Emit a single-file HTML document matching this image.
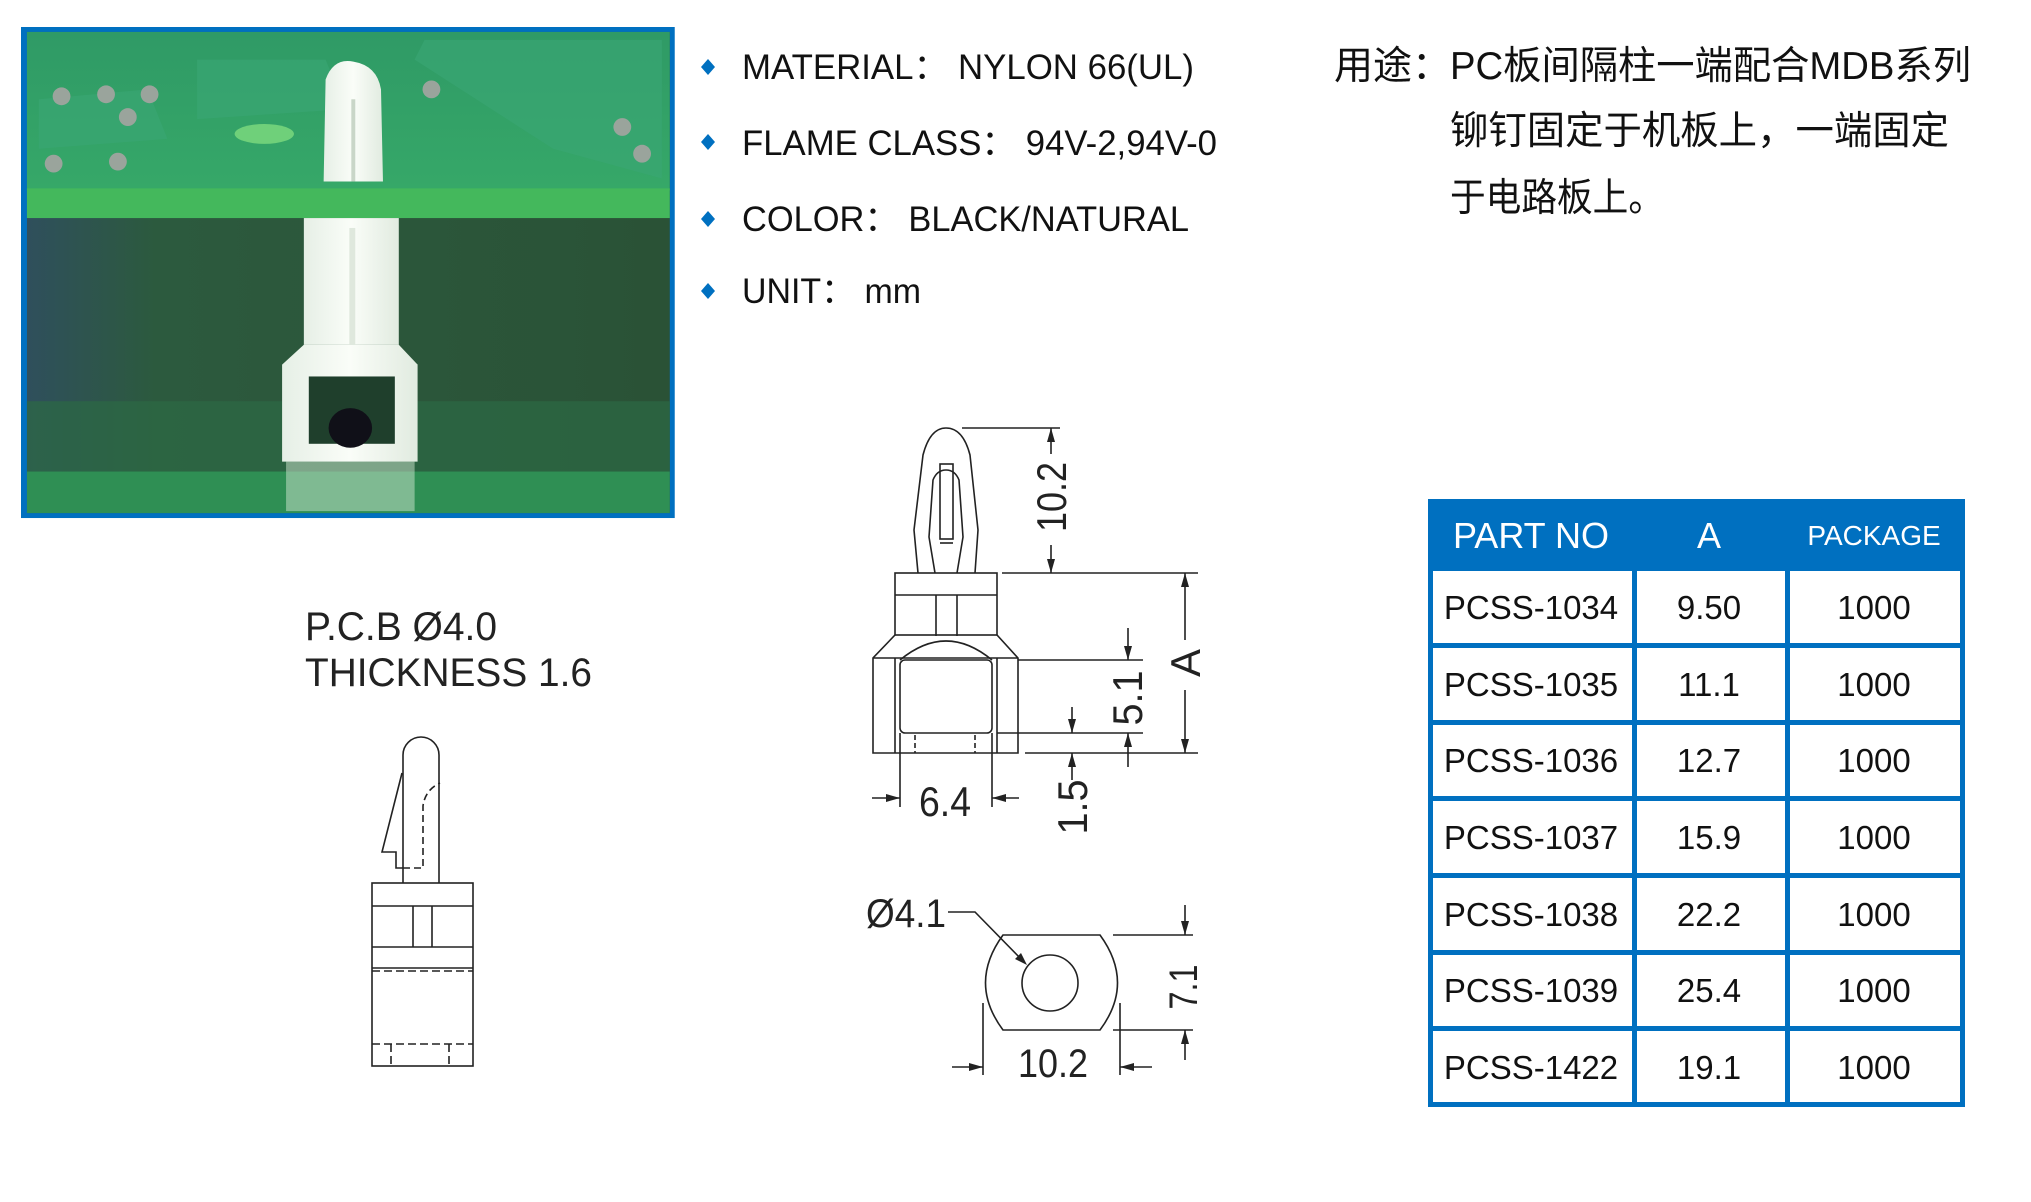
<!DOCTYPE html>
<html><head><meta charset="utf-8"><style>
html,body{margin:0;padding:0;background:#fff;}
svg{display:block;}
.t{font-family:"Liberation Sans","Noto Sans CJK SC",sans-serif;}
</style></head><body>
<svg width="2031" height="1202" viewBox="0 0 2031 1202" xmlns="http://www.w3.org/2000/svg">
<defs>
<linearGradient id="topb" x1="0" y1="0" x2="0" y2="1"><stop offset="0" stop-color="#2f9a66"/><stop offset="1" stop-color="#36a868"/></linearGradient>
<linearGradient id="dark" x1="0" y1="0" x2="1" y2="0"><stop offset="0" stop-color="#2f4f5c"/><stop offset="0.2" stop-color="#2c5a3e"/><stop offset="1" stop-color="#2a5236"/></linearGradient>
<linearGradient id="wh" x1="0" y1="0" x2="1" y2="0"><stop offset="0" stop-color="#e6efe6"/><stop offset="0.5" stop-color="#fafdf8"/><stop offset="1" stop-color="#e1ebe0"/></linearGradient>
</defs>
<!-- photo -->
<g transform="translate(21 27) scale(0.989 0.99) translate(-22 -27)">
<rect x="22" y="27" width="661" height="496" fill="#0070c0"/>
<rect x="28" y="32" width="650" height="486" fill="url(#dark)"/>
<rect x="28" y="32" width="650" height="160" fill="url(#topb)"/>
<path d="M40 100 L150 90 L170 140 L40 150Z M200 60 L330 60 L350 110 L200 120Z M420 60 L560 150 L670 180 L670 40 L430 40Z" fill="#3aa775" opacity="0.6"/>
<ellipse cx="268" cy="135" rx="30" ry="10" fill="#6fd07a"/>
<g fill="#9aa49c"><circle cx="63" cy="97" r="9"/><circle cx="108" cy="95" r="9"/><circle cx="152" cy="95" r="9"/><circle cx="130" cy="118" r="9"/><circle cx="55" cy="165" r="9"/><circle cx="120" cy="163" r="9"/><circle cx="437" cy="90" r="9"/><circle cx="630" cy="128" r="9"/><circle cx="650" cy="155" r="9"/></g>
<rect x="28" y="190" width="650" height="30" fill="#44b85c"/>
<rect x="28" y="476" width="650" height="42" fill="#2f8f54"/>
<rect x="28" y="405" width="650" height="71" fill="#2c6a44" opacity="0.7"/>
<path d="M328 183 L330 80 Q338 58 358 62 Q382 66 386 90 L388 183Z" fill="url(#wh)"/>
<rect x="356" y="100" width="4" height="83" fill="#c9d6c8"/>
<rect x="308" y="220" width="96" height="128" fill="url(#wh)"/>
<rect x="354" y="230" width="6" height="118" fill="#dfe8dd"/>
<path d="M308 348 L404 348 L423 368 L423 466 L286 466 L286 368Z" fill="url(#wh)"/>
<rect x="313" y="380" width="87" height="68" fill="#1f3f2c"/>
<ellipse cx="355" cy="432" rx="22" ry="20" fill="#101018"/>
<rect x="290" y="466" width="130" height="50" fill="#cfe6d0" opacity="0.5"/>
</g>

<!-- bullets -->
<g fill="#0070c0">
<path d="M708 59 l7 8 l-7 8 l-7 -8z"/>
<path d="M708 134 l7 8 l-7 8 l-7 -8z"/>
<path d="M708 211 l7 8 l-7 8 l-7 -8z"/>
<path d="M708 283 l7 8 l-7 8 l-7 -8z"/>
</g>
<g class="t" font-size="35" fill="#111">
<text x="742" y="79" textLength="452" lengthAdjust="spacingAndGlyphs">MATERIAL：  NYLON 66(UL)</text>
<text x="742" y="155" textLength="475" lengthAdjust="spacingAndGlyphs">FLAME CLASS：  94V-2,94V-0</text>
<text x="742" y="231" textLength="447" lengthAdjust="spacingAndGlyphs">COLOR：  BLACK/NATURAL</text>
<text x="742" y="303" textLength="179" lengthAdjust="spacingAndGlyphs">UNIT：  mm</text>
</g>
<g class="t" font-size="39" fill="#111">
<text x="1334" y="79">用途：</text>
<text x="1450" y="79" textLength="521" lengthAdjust="spacingAndGlyphs">PC板间隔柱一端配合MDB系列</text>
<text x="1450" y="144" textLength="499" lengthAdjust="spacingAndGlyphs">铆钉固定于机板上，一端固定</text>
<text x="1450" y="211" textLength="214" lengthAdjust="spacingAndGlyphs">于电路板上。</text>
</g>

<!-- table -->
<rect x="1428" y="499" width="537" height="608" fill="#0070c0"/>
<g fill="#fff">
<rect x="1433" y="571" width="199" height="72"/><rect x="1637" y="571" width="148" height="72"/><rect x="1790" y="571" width="170" height="72"/>
<rect x="1433" y="648" width="199" height="72"/><rect x="1637" y="648" width="148" height="72"/><rect x="1790" y="648" width="170" height="72"/>
<rect x="1433" y="725" width="199" height="71"/><rect x="1637" y="725" width="148" height="71"/><rect x="1790" y="725" width="170" height="71"/>
<rect x="1433" y="801" width="199" height="72"/><rect x="1637" y="801" width="148" height="72"/><rect x="1790" y="801" width="170" height="72"/>
<rect x="1433" y="878" width="199" height="72"/><rect x="1637" y="878" width="148" height="72"/><rect x="1790" y="878" width="170" height="72"/>
<rect x="1433" y="955" width="199" height="71"/><rect x="1637" y="955" width="148" height="71"/><rect x="1790" y="955" width="170" height="71"/>
<rect x="1433" y="1031" width="199" height="71"/><rect x="1637" y="1031" width="148" height="71"/><rect x="1790" y="1031" width="170" height="71"/>
</g>
<g class="t" fill="#fff" text-anchor="middle">
<text x="1531" y="548" font-size="36">PART NO</text>
<text x="1709" y="548" font-size="36">A</text>
<text x="1874" y="545" font-size="28">PACKAGE</text>
</g>
<g class="t" fill="#111" font-size="33" text-anchor="middle">
<text x="1531" y="619">PCSS-1034</text><text x="1709" y="619">9.50</text><text x="1874" y="619">1000</text>
<text x="1531" y="696">PCSS-1035</text><text x="1709" y="696">11.1</text><text x="1874" y="696">1000</text>
<text x="1531" y="772">PCSS-1036</text><text x="1709" y="772">12.7</text><text x="1874" y="772">1000</text>
<text x="1531" y="849">PCSS-1037</text><text x="1709" y="849">15.9</text><text x="1874" y="849">1000</text>
<text x="1531" y="926">PCSS-1038</text><text x="1709" y="926">22.2</text><text x="1874" y="926">1000</text>
<text x="1531" y="1002">PCSS-1039</text><text x="1709" y="1002">25.4</text><text x="1874" y="1002">1000</text>
<text x="1531" y="1079">PCSS-1422</text><text x="1709" y="1079">19.1</text><text x="1874" y="1079">1000</text>
</g>

<!-- left drawing -->
<g class="t" fill="#222" font-size="40">
<text x="305" y="640" textLength="192" lengthAdjust="spacingAndGlyphs">P.C.B  Ø4.0</text>
<text x="305" y="686" textLength="287" lengthAdjust="spacingAndGlyphs">THICKNESS  1.6</text>
</g>
<g fill="none" stroke="#222" stroke-width="1.6">
<path d="M403 883 L403 755 A18 18 0 0 1 439 755 L439 883"/>
<path d="M402 773 L382 852 L396 852 L396 868 L403 868"/>
<path d="M403 868 L423 868 L423 806 Q425 790 440 783" stroke-dasharray="7 4"/>
<rect x="372" y="883" width="101" height="183"/>
<path d="M372 906 H473 M372 947 H473 M372 968 H473 M413 906 V947 M432 906 V947"/>
<path d="M372 971 H473 M372 1044 H473 M391 1044 V1066 M449 1044 V1066" stroke-dasharray="8 4"/>
</g>

<!-- middle drawing -->
<g fill="none" stroke="#222" stroke-width="1.6">
<path d="M918 573 L914 530 L923 455 Q930 428 946 428 Q963 428 970 455 L978 530 L975 573"/>
<path d="M935 573 L929 537 L933 480 Q937 470 946 470 Q955 470 959 480 L963 537 L957 573"/>
<rect x="940" y="464" width="13" height="75"/>
<path d="M940 543 H953"/>
<rect x="895" y="573" width="102" height="62"/>
<path d="M895 595 H997 M936 595 V636 M957 595 V636"/>
<path d="M895 635 L873 658 L873 753 L1018 753 L1018 658 L997 635"/>
<path d="M873 658 H1018 M895 658 V753 M997 658 V753"/>
<path d="M900 660 Q946 622 992 660"/>
<rect x="900" y="660" width="92" height="73" rx="5"/>
<path d="M900 733 V807 M992 733 V807"/>
<path d="M915 735 V753 M975 735 V753" stroke-dasharray="5 3"/>
<path d="M962 428 H1060 M1051 428 V454 M1051 545 V573"/>
<path d="M1002 573 H1198 M1185 573 V640 M1185 690 V753"/>
<path d="M1018 660 H1143 M997 733 H1143 M1025 753 H1198"/>
<path d="M1128 628 V660 M1128 733 V767"/>
<path d="M1072 707 V733 M1072 753 V780"/>
<path d="M872 798 H900 M992 798 H1019"/>
</g>
<g fill="#222">
<path d="M1051 428 l-4 14 h8z M1051 573 l-4 -14 h8z"/>
<path d="M1185 573 l-4 14 h8z M1185 753 l-4 -14 h8z"/>
<path d="M1128 660 l-4 -14 h8z M1128 733 l-4 14 h8z"/>
<path d="M1072 733 l-4 -14 h8z M1072 753 l-4 14 h8z"/>
<path d="M900 798 l-14 -4 v8z M992 798 l14 -4 v8z"/>
</g>
<g class="t" fill="#222" font-size="42" text-anchor="middle">
<text transform="translate(1066 497) rotate(-90)" textLength="70" lengthAdjust="spacingAndGlyphs">10.2</text>
<text transform="translate(1200 663) rotate(-90)">A</text>
<text transform="translate(1142 698) rotate(-90)" textLength="55" lengthAdjust="spacingAndGlyphs">5.1</text>
<text transform="translate(1087 807) rotate(-90)" textLength="55" lengthAdjust="spacingAndGlyphs">1.5</text>
<text x="945" y="816" textLength="52" lengthAdjust="spacingAndGlyphs">6.4</text>
</g>

<!-- bottom drawing -->
<g fill="none" stroke="#222" stroke-width="1.6">
<path d="M1003 935 H1100 Q1135 983 1100 1030 H1003 Q968 983 1003 935Z"/>
<circle cx="1050" cy="983" r="28"/>
<path d="M948 912 H975 L1022 960"/>
<path d="M1113 935 H1193 M1113 1030 H1193 M1185 905 V935 M1185 1030 V1060"/>
<path d="M983 1003 V1075 M1120 1003 V1075 M952 1067 H983 M1120 1067 H1152"/>
</g>
<g fill="#222">
<path d="M1027 965 l-12 -6 l6 -6z"/>
<path d="M1185 935 l-4 -14 h8z M1185 1030 l-4 14 h8z"/>
<path d="M983 1067 l-14 -4 v8z M1120 1067 l14 -4 v8z"/>
</g>
<g class="t" fill="#222" font-size="40">
<text x="866" y="927" textLength="80" lengthAdjust="spacingAndGlyphs">Ø4.1</text>
<text x="1053" y="1077" text-anchor="middle" textLength="70" lengthAdjust="spacingAndGlyphs">10.2</text>
<text transform="translate(1197 987) rotate(-90)" text-anchor="middle" textLength="45" lengthAdjust="spacingAndGlyphs">7.1</text>
</g>
</svg>
</body></html>
